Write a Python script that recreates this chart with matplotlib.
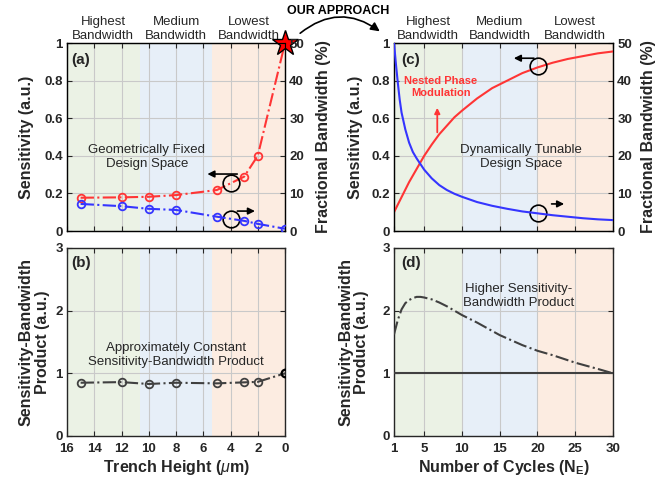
import matplotlib
matplotlib.use('Agg')
import matplotlib.pyplot as plt
from matplotlib.patches import FancyArrowPatch

plt.rcParams['font.family'] = ['Liberation Sans', 'DejaVu Sans']
plt.rcParams['mathtext.fontset'] = 'custom'
plt.rcParams['mathtext.rm'] = 'Liberation Sans'
plt.rcParams['mathtext.it'] = 'Liberation Sans:italic'
plt.rcParams['mathtext.bf'] = 'Liberation Sans:bold'

# ---------------- data ----------------
trench_height = [15, 12, 10, 8, 5, 3, 2, 0]
sens_a = [0.177, 0.179, 0.182, 0.191, 0.218, 0.289, 0.40, 1.0]
bw_a = [7.2, 6.6, 5.9, 5.6, 3.8, 2.7, 1.9, 0.6]
sbp_b = [0.85, 0.86, 0.83, 0.85, 0.84, 0.856, 0.864, 1.0]

cycles = [1, 1.25, 1.5, 1.75, 2, 2.5, 3, 3.5, 4, 5, 6, 7, 8, 9, 10,
          12, 14, 16, 18, 20, 22, 24, 26, 28, 30]
sens_c = [0.10, 0.12, 0.14, 0.16, 0.18, 0.22, 0.26, 0.295, 0.33, 0.40, 0.46,
          0.515, 0.56, 0.605, 0.64, 0.705, 0.76, 0.80, 0.84, 0.87, 0.895,
          0.915, 0.93, 0.945, 0.955]
bw_c = [50, 44.5, 39.5, 35, 31.5, 27, 23.5, 21, 19.3, 16.3, 14, 12.2, 10.9,
        9.9, 9.1, 7.7, 6.7, 5.9, 5.2, 4.7, 4.2, 3.8, 3.4, 3.1, 2.9]

cycles_d = [1, 1.5, 2, 2.5, 3, 3.5, 4, 4.5, 5, 6, 7, 8, 10, 12, 15, 18, 20,
            22, 25, 28, 30]
sbp_d = [1.62, 1.85, 2.02, 2.12, 2.17, 2.20, 2.22, 2.22, 2.21, 2.18, 2.13,
         2.07, 1.93, 1.81, 1.61, 1.45, 1.36, 1.29, 1.17, 1.07, 1.0]
sbp_ref = [1.0, 1.0]
ref_x = [1, 30]

region_labels = ['Highest\nBandwidth', 'Medium\nBandwidth', 'Lowest\nBandwidth']
regions_left = [16, 32 / 3, 16 / 3, 0]
regions_right = [1, 10, 20, 30]
region_colors = ['#ebf2e5', '#e7eff8', '#fcece1']

RED = '#ff3535'
BLUE = '#3535ff'
DARK = '#262626'
GRID = '#c9c9c9'

W, H = 666, 483
fig = plt.figure(figsize=(W / 100, H / 100), dpi=100)


def px_axes(l, t, r, b):
    return fig.add_axes([l / W, 1 - b / H, (r - l) / W, (b - t) / H])


axA = px_axes(67, 43, 285, 231)
axB = px_axes(67, 248, 285, 436)
axC = px_axes(394, 43, 613, 231)
axD = px_axes(394, 248, 613, 436)

TICK_FS = 9.5
LABEL_FS = 11.5
ANN_FS = 9.5


def style(ax):
    ax.set_axisbelow(True)
    ax.grid(True, color=GRID, lw=0.8)
    ax.tick_params(direction='in', length=3.5, width=0.8, colors=DARK,
                   labelsize=TICK_FS, top=True, pad=3)
    ax.tick_params(axis='x', pad=5)
    for lab in ax.get_xticklabels() + ax.get_yticklabels():
        lab.set_fontweight('bold')
    for s in ax.spines.values():
        s.set_color(DARK)
        s.set_linewidth(1.0)


def shade(ax, bounds):
    for i in range(3):
        ax.axvspan(bounds[i], bounds[i + 1], color=region_colors[i], zorder=0, lw=0)


# ---------------- panel (a) ----------------
shade(axA, regions_left)
axA.set_xlim(16, 0)
axA.set_ylim(0, 1)
axA.set_xticks(range(16, -1, -2))
axA.set_yticks([0, 0.2, 0.4, 0.6, 0.8, 1])
axA.set_yticklabels(['0', '0.2', '0.4', '0.6', '0.8', '1'])
axA.tick_params(labelbottom=False, right=False)
style(axA)
axA.plot(trench_height, sens_a, ls='-.', color=RED, lw=1.5, zorder=3)
axA.plot(trench_height[:-1], sens_a[:-1], ls='none', marker='o', ms=5.5,
         mfc='none', mec=RED, mew=1.3, zorder=3)
axA.plot(trench_height[-1:], sens_a[-1:], ls='none', marker='*', ms=19,
         mfc='#ff0000', mec='k', mew=1.0, clip_on=False, zorder=10)
axA.set_ylabel('Sensitivity (a.u.)', fontsize=LABEL_FS, fontweight='bold', color=DARK)
axA.yaxis.set_label_coords(-0.15, 0.5)

axA2 = axA.twinx()
axA2.set_ylim(0, 50)
axA2.set_yticks(range(0, 51, 10))
axA2.tick_params(direction='in', length=3.5, width=0.8, colors=DARK,
                 labelsize=TICK_FS, pad=3)
for lab in axA2.get_yticklabels():
    lab.set_fontweight('bold')
axA2.plot(trench_height, bw_a, ls='-.', color=BLUE, lw=1.5, marker='o', ms=5.5,
          mfc='none', mec=BLUE, mew=1.3, zorder=3)
axA2.set_ylabel('Fractional Bandwidth (%)', fontsize=LABEL_FS, fontweight='bold',
                color=DARK)
axA2.yaxis.set_label_coords(1.14, 0.5)

for i, lab in enumerate(region_labels):
    xc = (regions_left[i] + regions_left[i + 1]) / 2
    axA.text(xc, 1.075, lab, transform=axA.get_xaxis_transform(), ha='center',
             va='center', fontsize=ANN_FS, color=DARK, linespacing=1.25)
axA.text(0.02, 0.91, '(a)', transform=axA.transAxes, fontsize=11,
         fontweight='bold', color=DARK, va='center')
axA.text(10.15, 0.394, 'Geometrically Fixed\nDesign Space', ha='center',
         va='center', fontsize=ANN_FS, color=DARK, linespacing=1.25)
axA.plot([4.0], [0.257], marker='o', ms=12, mfc='none', mec='k', mew=1.2, zorder=5)
axA.annotate('', xy=(5.9, 0.303), xytext=(3.3, 0.303),
             arrowprops=dict(arrowstyle='-|>', color='k', lw=1.2, mutation_scale=10))
axA.plot([4.0], [0.064], marker='o', ms=12, mfc='none', mec='k', mew=1.2, zorder=5)
axA.annotate('', xy=(2.0, 0.106), xytext=(3.7, 0.106),
             arrowprops=dict(arrowstyle='-|>', color='k', lw=1.2, mutation_scale=10))

# ---------------- panel (b) ----------------
shade(axB, regions_left)
axB.set_xlim(16, 0)
axB.set_ylim(0, 3)
axB.set_xticks(range(16, -1, -2))
axB.set_yticks([0, 1, 2, 3])
axB.tick_params(right=True)
style(axB)
axB.plot(trench_height, sbp_b, ls='-.', color='#404040', lw=1.5, zorder=3)
axB.plot(trench_height[:-1], sbp_b[:-1], ls='none', marker='o', ms=5.5,
         mfc='none', mec='#404040', mew=1.3, zorder=3)
axB.plot(trench_height[-1:], sbp_b[-1:], ls='none', marker='o', ms=5.5,
         mfc='none', mec='k', mew=1.6, zorder=4)
axB.set_ylabel('Sensitivity-Bandwidth\nProduct (a.u.)', fontsize=LABEL_FS,
               fontweight='bold', color=DARK, linespacing=1.05)
axB.yaxis.set_label_coords(-0.08, 0.5)
axB.set_xlabel(r'Trench Height ($\mu$m)', fontsize=LABEL_FS, fontweight='bold',
               color=DARK, labelpad=2)
axB.text(0.02, 0.92, '(b)', transform=axB.transAxes, fontsize=11,
         fontweight='bold', color=DARK, va='center')
axB.text(8.0, 1.29, 'Approximately Constant\nSensitivity-Bandwidth Product',
         ha='center', va='center', fontsize=ANN_FS, color=DARK, linespacing=1.25)

# ---------------- panel (c) ----------------
shade(axC, regions_right)
axC.set_xlim(1, 30)
axC.set_ylim(0, 1)
axC.set_xticks([1, 5, 10, 15, 20, 25, 30])
axC.set_yticks([0, 0.2, 0.4, 0.6, 0.8, 1])
axC.set_yticklabels(['0', '0.2', '0.4', '0.6', '0.8', '1'])
axC.tick_params(labelbottom=False, right=False)
style(axC)
axC.plot(cycles, sens_c, color=RED, lw=1.5, zorder=3)
axC.set_ylabel('Sensitivity (a.u.)', fontsize=LABEL_FS, fontweight='bold', color=DARK)
axC.yaxis.set_label_coords(-0.142, 0.5)

axC2 = axC.twinx()
axC2.set_ylim(0, 50)
axC2.set_yticks(range(0, 51, 10))
axC2.tick_params(direction='in', length=3.5, width=0.8, colors=DARK,
                 labelsize=TICK_FS, pad=3)
for lab in axC2.get_yticklabels():
    lab.set_fontweight('bold')
axC2.plot(cycles, bw_c, color=BLUE, lw=1.5, zorder=3)
axC2.set_ylabel('Fractional Bandwidth (%)', fontsize=LABEL_FS, fontweight='bold',
                color=DARK)
axC2.yaxis.set_label_coords(1.13, 0.5)

for i, lab in enumerate(region_labels):
    xc = (regions_right[i] + regions_right[i + 1]) / 2
    axC.text(xc, 1.075, lab, transform=axC.get_xaxis_transform(), ha='center',
             va='center', fontsize=ANN_FS, color=DARK, linespacing=1.25)
axC.text(0.035, 0.91, '(c)', transform=axC.transAxes, fontsize=11,
         fontweight='bold', color=DARK, va='center')
axC.text(17.8, 0.395, 'Dynamically Tunable\nDesign Space', ha='center',
         va='center', fontsize=ANN_FS, color=DARK, linespacing=1.25)
axC.text(7.2, 0.766, 'Nested Phase\nModulation', ha='center', va='center',
         fontsize=8, fontweight='bold', color=RED, linespacing=1.25)
axC.annotate('', xy=(6.73, 0.67), xytext=(6.73, 0.51),
             arrowprops=dict(arrowstyle='-|>', color=RED, lw=1.3, mutation_scale=8))
axC.plot([20.07], [0.879], marker='o', ms=12, mfc='none', mec='k', mew=1.2, zorder=5)
axC.annotate('', xy=(16.5, 0.919), xytext=(19.9, 0.919),
             arrowprops=dict(arrowstyle='-|>', color='k', lw=1.2, mutation_scale=10))
axC.plot([20.1], [0.097], marker='o', ms=12, mfc='none', mec='k', mew=1.2, zorder=5)
axC.annotate('', xy=(23.9, 0.144), xytext=(21.5, 0.144),
             arrowprops=dict(arrowstyle='-|>', color='k', lw=1.2, mutation_scale=10))

# ---------------- panel (d) ----------------
shade(axD, regions_right)
axD.set_xlim(1, 30)
axD.set_ylim(0, 3)
axD.set_xticks([1, 5, 10, 15, 20, 25, 30])
axD.set_yticks([0, 1, 2, 3])
axD.tick_params(right=True)
style(axD)
axD.plot(cycles_d, sbp_d, ls='-.', color='#404040', lw=1.5, zorder=3)
axD.plot(ref_x, sbp_ref, ls='-', color='#404040', lw=1.5, zorder=3)
axD.set_ylabel('Sensitivity-Bandwidth\nProduct (a.u.)', fontsize=LABEL_FS,
               fontweight='bold', color=DARK, linespacing=1.05)
axD.yaxis.set_label_coords(-0.115, 0.5)
axD.set_xlabel(r'Number of Cycles (N$_{\mathbf{E}}$)', fontsize=LABEL_FS,
               fontweight='bold', color=DARK, labelpad=2)
axD.text(0.035, 0.92, '(d)', transform=axD.transAxes, fontsize=11,
         fontweight='bold', color=DARK, va='center')
axD.text(17.5, 2.23, 'Higher Sensitivity-\nBandwidth Product', ha='center',
         va='center', fontsize=ANN_FS, color=DARK, linespacing=1.25)

# ---------------- "OUR APPROACH" ----------------
fig.text(338 / W, 1 - 11.5 / H, 'OUR APPROACH', ha='center', va='center',
         fontsize=9, fontweight='bold', color='k')
arr = FancyArrowPatch((298 / W, 1 - 35 / H), (382 / W, 1 - 33 / H),
                      transform=fig.transFigure, connectionstyle='arc3,rad=-0.4',
                      arrowstyle='-|>', mutation_scale=13, lw=1.2, color='k')
fig.patches.append(arr)

fig.savefig('out.png', dpi=100)
